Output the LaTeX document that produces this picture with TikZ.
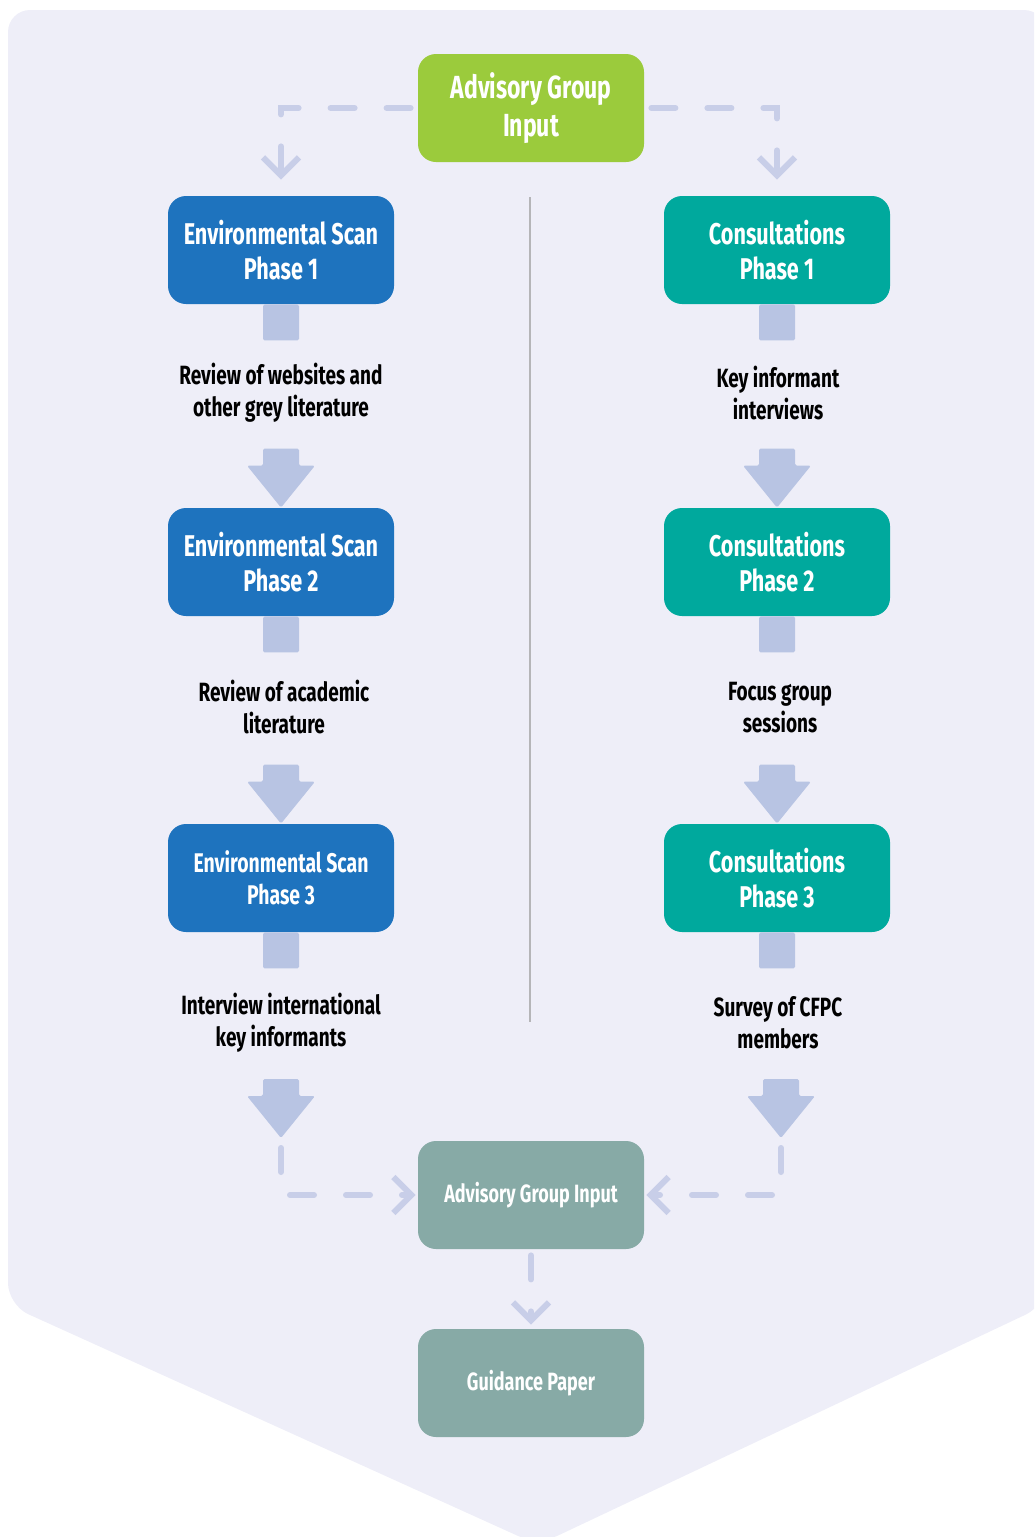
\documentclass[tikz,border=0pt]{standalone}
\usepackage{fontspec}
\setmainfont{Fira Sans}[FakeStretch=0.72]
\usetikzlibrary{arrows.meta, positioning, calc}
\definecolor{bgLav}{HTML}{EEEEF8}
\definecolor{esBlue}{HTML}{1E73BE}
\definecolor{coTeal}{HTML}{00A99D}
\definecolor{agGreen}{HTML}{9BCB3C}
\definecolor{agGrey}{HTML}{87AAA6}
\definecolor{blkArr}{HTML}{B8C4E3}
\definecolor{dshLine}{HTML}{C8CEE8}
\definecolor{divGrey}{HTML}{B5B5B8}
\newcommand{\stemrect}[1]{\fill[blk] ($(#1.south)+(-18,0)$) rectangle ($(#1.south)+(18,36)$);}
\newcommand{\blockarr}[1]{\fill[blk] ($(#1)+(-18,-59)$) -- ($(#1)+(18,-59)$) -- ($(#1)+(18,-42)$) -- ($(#1)+(34,-42)$) -- (#1) -- ($(#1)+(-34,-42)$) -- ($(#1)+(-18,-42)$) -- cycle;}
\tikzset{
  box/.style  ={rounded corners=9pt, minimum width=113pt, minimum height=54pt, inner sep=0pt, align=center, text=white, font=\fontsize{15}{17.5}\selectfont\bfseries},
  esbox/.style={box, fill=esBlue},
  cobox/.style={box, fill=coTeal},
  agbox/.style={box, fill=agGreen, font=\fontsize{16}{19}\selectfont\bfseries},
  grbox/.style={box, fill=agGrey, font=\fontsize{12.5}{15}\selectfont\bfseries},
  lbl/.style  ={align=center, text=black, font=\fontsize{13.2}{16}\selectfont\bfseries},
  blk/.style  ={fill=blkArr, rounded corners=0.8pt},
  dsh/.style  ={draw=dshLine, line width=3pt, line cap=round, dash pattern=on 12pt off 16pt, -{Straight Barb[length=9pt, width=18pt]}},
}

\begin{document}
\begin{tikzpicture}[x=0.5pt, y=-0.5pt]
  \useasboundingbox (0,0) rectangle (1034,1537);
  \clip (0,0) rectangle (1034,1537);
  \fill[bgLav, rounded corners=11pt] (8,10) -- (1046,10) -- (1046,1305) -- (538,1545) -- (8,1305) -- cycle;
  \draw[divGrey, line width=0.6pt] (530,197) -- (530,1022);

  \node[agbox] (agTop) at (531,108) {Advisory Group\\Input};
  \node[esbox] (esA) at (281,250) {Environmental Scan\\Phase 1};
  \node[esbox] (esB) at (281,562) {Environmental Scan\\Phase 2};
  \node[esbox, font=\fontsize{13.5}{16}\selectfont\bfseries] (esC) at (281,878) {Environmental Scan\\Phase 3};
  \node[cobox] (coA) at (777,250) {Consultations\\Phase 1};
  \node[cobox] (coB) at (777,562) {Consultations\\Phase 2};
  \node[cobox] (coC) at (777,878) {Consultations\\Phase 3};

  \node[lbl] (lblA) at (281,393) {Review of websites and\\other grey literature};
  \node[lbl] (lblB) at (284,707) {Review of academic\\literature};
  \node[lbl] (lblC) at (281,1023) {Interview international\\key informants};
  \node[lbl] (lblD) at (778,393) {Key informant\\interviews};
  \node[lbl] (lblE) at (780,708) {Focus group\\sessions};
  \node[lbl] (lblF) at (778,1023) {Survey of CFPC\\members};

  \node[grbox] (agBot) at (531,1195) {Advisory Group Input};
  \node[grbox] (guide) at (531,1383) {Guidance Paper};
  \coordinate (tipL) at (281,1138);
  \coordinate (tipR) at (781,1138);

  % block arrows down each column
  \stemrect{esA} \stemrect{esB} \stemrect{esC}
  \stemrect{coA} \stemrect{coB} \stemrect{coC}
  \blockarr{esB.north} \blockarr{esC.north} \blockarr{tipL}
  \blockarr{coB.north} \blockarr{coC.north} \blockarr{tipR}

  % advisory input links
  \draw[dsh, shorten <=3.5pt] (agTop.west) -| ([yshift=8pt]esA.north);
  \draw[dsh, shorten <=3.5pt] (agTop.east) -| ([yshift=8pt]coA.north);
  \draw[dsh, shorten <=5pt, shorten >=1pt] (tipL) |- (agBot.west);
  \draw[dsh, shorten <=5pt, shorten >=1pt] (tipR) |- (agBot.east);
  \draw[dsh, shorten <=3pt, shorten >=2pt] (agBot.south) -- (guide.north);
\end{tikzpicture}
\end{document}
